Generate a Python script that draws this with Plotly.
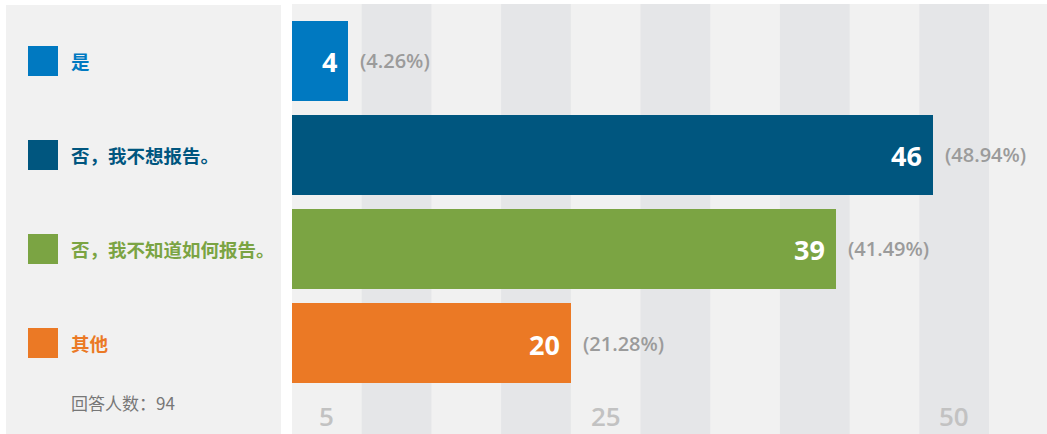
import plotly.graph_objects as go

# ---- data ----
categories = ["是", "否，我不想报告。", "否，我不知道如何报告。", "其他"]
counts = [4, 46, 39, 20]
colors = ["#0079C1", "#00567F", "#7BA443", "#EB7925"]
respondents = 94
tick_labels = ["5", "25", "50"]
count_label = "回答人数："

# ---- geometry helpers ----
W, H = 1047, 434
PX_PER_UNIT = 13.94
ROW = 94.0
ROW0 = 61.0  # pixel centre of first row


def py(p):
    return 1 - p / H


x_left = 292
x_max = (W - x_left) / PX_PER_UNIT

fig = go.Figure()

fig.add_trace(go.Bar(
    orientation="h", x=counts, y=categories,
    marker=dict(color=colors, line=dict(width=0)),
    width=80 / ROW, hoverinfo="skip", xaxis="x", yaxis="y",
))

fig.add_trace(go.Scatter(
    x=[43] * len(categories), y=categories, mode="markers",
    marker=dict(symbol="square", size=30, color=colors, line=dict(width=0)),
    hoverinfo="skip", xaxis="x2", yaxis="y2",
))

shapes = []
k = 1
while 5 * k < x_max:
    if k % 2 == 1:
        shapes.append(dict(type="rect", xref="x", yref="paper",
                           x0=5 * k, x1=min(5 * k + 5, x_max), y0=0, y1=py(4),
                           fillcolor="#E5E6E8", line=dict(width=0), layer="below"))
    k += 1

annotations = []
for cat, v, c in zip(categories, counts, colors):
    annotations.append(dict(
        x=v, y=cat, xref="x", yref="y", text=f"<b>{v}</b>", showarrow=False,
        xanchor="right", yanchor="middle", xshift=-9, yshift=-1,
        font=dict(family="Open Sans", size=27, color="white"),
    ))
    annotations.append(dict(
        x=v, y=cat, xref="x", yref="y", text=f"({v / respondents * 100:.2f}%)",
        showarrow=False, xanchor="left", yanchor="middle", xshift=10,
        font=dict(family="Open Sans", size=20, color="#9B9B9B", weight=600),
    ))
    annotations.append(dict(
        x=69, y=cat, xref="x2", yref="y2", text=f"<b>{cat}</b>", showarrow=False,
        xanchor="left", yanchor="middle",
        font=dict(family="Noto Sans CJK SC", size=18.5, color=c),
    ))

for t in tick_labels:
    annotations.append(dict(
        x=int(t) - 2.5, y=py(416), xref="x", yref="paper", text=t,
        showarrow=False, xanchor="center", yanchor="middle",
        font=dict(family="Open Sans", size=26, color="#C2C2C2", weight=600),
    ))

annotations.append(dict(
    x=69, y=py(402), xref="x2", yref="paper",
    text=f"{count_label}{respondents}", showarrow=False,
    xanchor="left", yanchor="middle",
    font=dict(family="Noto Sans CJK SC", size=17, color="#777777"),
))

fig.update_layout(
    width=W, height=H, margin=dict(l=0, r=0, t=0, b=0),
    paper_bgcolor="white", plot_bgcolor="#F1F1F1",
    showlegend=False, bargap=0,
    xaxis=dict(domain=[x_left / W, 1], range=[0, x_max], showgrid=False,
               zeroline=False, showticklabels=False, fixedrange=True),
    yaxis=dict(domain=[0, py(4)], type="category",
               range=[(H - ROW0) / ROW, (4 - ROW0) / ROW],
               showgrid=False, zeroline=False, showticklabels=False, fixedrange=True),
    xaxis2=dict(domain=[6 / W, 281 / W], range=[6, 281], anchor="y2", showgrid=False,
                zeroline=False, showticklabels=False, fixedrange=True),
    yaxis2=dict(domain=[0, py(5)], type="category", anchor="x2",
                range=[(H - ROW0) / ROW, (5 - ROW0) / ROW],
                showgrid=False, zeroline=False, showticklabels=False, fixedrange=True),
    shapes=shapes, annotations=annotations,
)

fig.write_html(
    "out.html", config={"displayModeBar": False},
    post_script="document.body.style.margin='0';document.body.style.overflow='hidden';",
)
